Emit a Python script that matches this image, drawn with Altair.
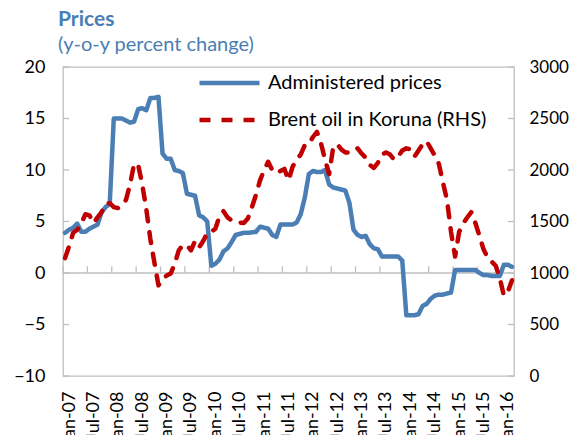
import altair as alt
import numpy as np
import pandas as pd

# Monthly categories Jan-07 .. Mar-16
month_labels = list(pd.date_range("2007-01-01", "2016-03-01", freq="MS").strftime("%b-%y"))
tick_labels = month_labels[::6]  # Jan-07, Jul-07, ..., Jan-16

series_names = ["Administered prices", "Brent oil in Koruna (RHS)"]

# Administered prices, y-o-y % change (left axis)
admin = [3.9, 4.2, 4.4, 4.8, 4.0, 4.0, 4.3, 4.5, 4.7, 5.9, 6.4, 6.7,
         15.0, 15.0, 15.0, 14.8, 14.6, 14.7, 15.9, 16.0, 15.8, 17.0, 17.0, 17.1,
         11.6, 11.1, 11.1, 10.0, 9.9, 9.7, 7.7, 7.6, 7.5, 5.6, 5.4, 5.0,
         0.7, 0.9, 1.3, 2.1, 2.4, 3.0, 3.7, 3.8, 3.9, 3.9, 3.95, 4.0,
         4.5, 4.4, 4.3, 3.7, 3.5, 4.7, 4.7, 4.7, 4.7, 4.9, 5.7, 7.3,
         9.6, 9.9, 9.8, 9.8, 10.0, 8.6, 8.3, 8.2, 8.1, 8.0, 6.8, 4.2,
         3.7, 3.5, 3.6, 2.8, 2.4, 2.3, 1.6, 1.6, 1.6, 1.6, 1.6, 1.2,
         -4.1, -4.1, -4.1, -4.0, -3.2, -3.0, -2.5, -2.2, -2.1, -2.1, -2.0, -1.9,
         0.3, 0.3, 0.3, 0.3, 0.3, 0.3, 0.0, -0.2, -0.2, -0.3, -0.3, -0.3,
         0.8, 0.8, 0.6]

# Brent oil in Koruna (right axis)
brent = [1145, 1260, 1390, 1420, 1480, 1570, 1560, 1485, 1540, 1590, 1670, 1680,
         1640, 1630, 1660, 1710, 1860, 2060, 2050, 1860, 1620, 1330, 1100, 880,
         940, 975, 995, 1090, 1220, 1270, 1270, 1220, 1310, 1250, 1310, 1390,
         1400, 1430, 1550, 1600, 1540, 1510, 1500, 1490, 1485, 1530, 1640, 1760,
         1900, 2000, 2080, 2000, 1970, 1990, 2010, 1900, 2030, 2100, 2150, 2240,
         2250, 2320, 2370, 2260, 2100, 1960, 2220, 2250, 2200, 2170, 2170, 2200,
         2210, 2160, 2120, 2050, 2020, 2070, 2150, 2170, 2150, 2100, 2130, 2190,
         2210, 2200, 2130, 2190, 2250, 2280, 2210, 2140, 2060, 1880, 1710, 1400,
         1160, 1400, 1480, 1540, 1590, 1485, 1360, 1230, 1150, 1110, 1070, 950,
         780, 820, 930]

left_ticks = [-10, -5, 0, 5, 10, 15, 20]
right_ticks = [0, 500, 1000, 1500, 2000, 2500, 3000]

BLUE = "#4a7eb4"
RED = "#c00000"
GRAY = "#bfbfbf"
FONT = "Lato"

n = len(month_labels)
df = pd.DataFrame({
    "month": month_labels,
    "pos": np.arange(n) + 0.5,
    "admin": admin,
    "brent": brent,
})

label_expr = "[" + ",".join("'%s'" % t for t in tick_labels) + "][round(datum.value/6)]"

xscale = alt.Scale(domain=[0, n], nice=False, zero=False)
xaxis = alt.Axis(values=list(range(0, n - 2, 6)), labelExpr=label_expr, labelAngle=270,
                 ticks=False, domain=False, grid=False, labelPadding=15, labelOffset=6,
                 title=None, labelFont=FONT, labelFontSize=18, labelColor="#000000")
yscale_l = alt.Scale(domain=[-10, 20], nice=False, zero=False)
yaxis_l = alt.Axis(values=left_ticks, ticks=False, domain=False, grid=False, labelPadding=18,
                   title=None, labelFont=FONT, labelFontSize=18, labelColor="#000000", orient="left")

def yl(field):
    return alt.Y(field, type="quantitative", scale=yscale_l, axis=yaxis_l)

legend = alt.Legend(orient="none", legendX=134, legendY=6, direction="vertical",
                    symbolType="stroke", symbolSize=3600, symbolStrokeWidth=4.5,
                    labelFont=FONT, labelFontSize=20, labelColor="#000000", title=None,
                    clipHeight=20, rowPadding=17, labelOffset=6, padding=0, labelLimit=0,
                    symbolOffset=0)
color = lambda: alt.Color("series:N", scale=alt.Scale(domain=series_names, range=[BLUE, RED]),
                          legend=legend)
dash = lambda: alt.StrokeDash("series:N", scale=alt.Scale(domain=series_names, range=[[1, 0], [11, 11]]),
                              legend=legend)

base = alt.Chart(df)

blue = base.transform_calculate(series="'%s'" % series_names[0]).mark_line(
    strokeWidth=4.5, strokeCap="round", strokeJoin="round"
).encode(x=alt.X("pos:Q", scale=xscale, axis=xaxis), y=yl("admin"), color=color(), strokeDash=dash())

zero_df = pd.DataFrame({"z": [0]})
zero = alt.Chart(zero_df).mark_rule(color=GRAY, strokeWidth=1.3).encode(y=yl("z"))

xt_df = pd.DataFrame({"pos": list(range(0, n - 2, 6)), "y0": 0.0, "y1": 0.65})
xticks = alt.Chart(xt_df).mark_rule(color=GRAY, strokeWidth=1.3).encode(
    x=alt.X("pos:Q", scale=xscale, axis=xaxis), y=yl("y0"), y2="y1")

yt_df = pd.DataFrame({"v": left_ticks, "xa": 0.0, "xb": 1.5, "xc": n - 1.5, "xd": float(n)})
ticks_l = alt.Chart(yt_df).mark_rule(color=GRAY, strokeWidth=1.3).encode(
    y=yl("v"), x=alt.X("xa:Q", scale=xscale, axis=xaxis), x2="xb")
ticks_r = alt.Chart(yt_df).mark_rule(color=GRAY, strokeWidth=1.3).encode(
    y=yl("v"), x=alt.X("xc:Q", scale=xscale, axis=xaxis), x2="xd")

left = alt.layer(zero, xticks, ticks_l, ticks_r, blue)

red = base.transform_calculate(series="'%s'" % series_names[1]).mark_line(
    strokeWidth=4.5, strokeCap="round", strokeJoin="round"
).encode(
    x=alt.X("pos:Q", scale=xscale, axis=xaxis),
    y=alt.Y("brent:Q", scale=alt.Scale(domain=[0, 3000], nice=False, zero=False),
            axis=alt.Axis(orient="right", values=right_ticks, format="d", ticks=False, domain=False,
                          grid=False, labelPadding=15, title=None, labelFont=FONT, labelFontSize=17,
                          labelColor="#000000")),
    color=color(), strokeDash=dash())

chart = alt.layer(left, red).resolve_scale(y="independent").properties(
    width=451, height=309,
    autosize=alt.AutoSizeParams(type="none"),
    padding={"left": 55, "top": 59, "right": 56, "bottom": 59},
    title=alt.TitleParams("Prices", subtitle="(y-o-y percent change)", anchor="start", frame="group",
                          font=FONT, fontSize=21, fontWeight="bold", color=BLUE,
                          subtitleFont=FONT, subtitleFontSize=20, subtitleColor=BLUE,
                          subtitlePadding=5, offset=3, dx=-5),
).configure_view(stroke=GRAY, strokeWidth=1.3)

chart.save("out.html", embed_options={"renderer": "svg", "actions": False})
